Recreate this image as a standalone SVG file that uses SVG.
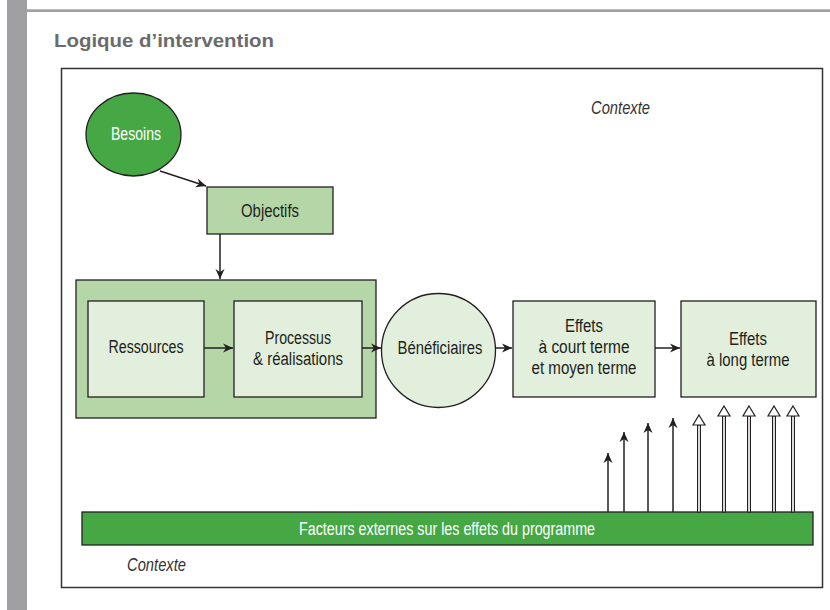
<svg xmlns="http://www.w3.org/2000/svg" width="830" height="610" viewBox="0 0 830 610">
<style>
.t{font-family:'Liberation Sans',Arial,sans-serif;font-size:18px;fill:#231f20;text-anchor:middle}
.w{fill:#ffffff}
.ctx{font-style:italic;text-anchor:start;fill:#333}
.title{font-family:'Liberation Sans',Arial,sans-serif;font-size:19px;font-weight:bold;fill:#6a6b6d}
.dk{fill:#45a845;stroke:#231f20;stroke-width:1.3}
.md{fill:#b5d7a8;stroke:#231f20;stroke-width:1.3}
.lt{fill:#e2efdc;stroke:#231f20;stroke-width:1.3}
.edge{stroke:#231f20;stroke-width:1.5;fill:none;marker-end:url(#ah)}
.hol{fill:#fff;stroke:#231f20;stroke-width:1.2}
.shaft{fill:#d9d9d9;stroke:#231f20;stroke-width:1}
</style>
<defs>
<marker id="ah" markerUnits="userSpaceOnUse" markerWidth="11" markerHeight="10" refX="10" refY="5" orient="auto">
<path d="M0,0.5 L10,5 L0,9.5 L3,5 z" fill="#231f20"/>
</marker>
</defs>
<rect x="7" y="0" width="20" height="610" fill="#a0a0a2"/>
<rect x="27" y="9.3" width="803" height="2.7" fill="#a0a0a2"/>
<text class="title" x="54" y="47" textLength="220" lengthAdjust="spacingAndGlyphs">Logique d’intervention</text>
<rect x="61.5" y="68.5" width="761" height="519" fill="#fff" stroke="#333" stroke-width="1.5"/>
<text class="t ctx" x="591" y="114" textLength="59" lengthAdjust="spacingAndGlyphs">Contexte</text>
<text class="t ctx" x="127" y="571" textLength="59" lengthAdjust="spacingAndGlyphs">Contexte</text>
<g id="besoins"><ellipse class="dk" cx="133.5" cy="134.5" rx="47.5" ry="41.5"/><text class="t w" x="136" y="140" textLength="50" lengthAdjust="spacingAndGlyphs">Besoins</text></g>
<g id="objectifs"><rect class="md" x="207" y="187" width="126" height="47"/><text class="t" x="270" y="217" textLength="58" lengthAdjust="spacingAndGlyphs">Objectifs</text></g>
<g id="groupe"><rect class="md" x="76" y="280" width="300" height="138"/></g>
<g id="ressources"><rect class="lt" x="88" y="301" width="116" height="96"/><text class="t" x="146" y="353" textLength="75" lengthAdjust="spacingAndGlyphs">Ressources</text></g>
<g id="processus"><rect class="lt" x="234" y="301" width="128" height="96"/><text class="t" x="298" y="344" textLength="66" lengthAdjust="spacingAndGlyphs">Processus</text><text class="t" x="298" y="365" textLength="90" lengthAdjust="spacingAndGlyphs">&amp; réalisations</text></g>
<g id="beneficiaires"><circle class="lt" cx="438.5" cy="350.5" r="57"/><text class="t" x="440" y="354" textLength="85" lengthAdjust="spacingAndGlyphs">Bénéficiaires</text></g>
<g id="effets-court"><rect class="lt" x="513" y="301" width="142" height="96"/><text class="t" x="584" y="332" textLength="38" lengthAdjust="spacingAndGlyphs">Effets</text><text class="t" x="584" y="353" textLength="91" lengthAdjust="spacingAndGlyphs">à court terme</text><text class="t" x="584" y="374" textLength="105" lengthAdjust="spacingAndGlyphs">et moyen terme</text></g>
<g id="effets-long"><rect class="lt" x="681" y="301" width="135" height="96"/><text class="t" x="748" y="345" textLength="38" lengthAdjust="spacingAndGlyphs">Effets</text><text class="t" x="748" y="366" textLength="83" lengthAdjust="spacingAndGlyphs">à long terme</text></g>
<g id="facteurs"><rect class="dk" x="82" y="512" width="731" height="33"/><text class="t w" x="447" y="535" textLength="296" lengthAdjust="spacingAndGlyphs">Facteurs externes sur les effets du programme</text></g>
<g id="connectors">
<line class="edge" x1="160" y1="171" x2="206" y2="186"/>
<line class="edge" x1="220" y1="234" x2="220" y2="279"/>
<line class="edge" x1="204" y1="348" x2="233" y2="348"/>
<line class="edge" x1="362" y1="348" x2="381" y2="348"/>
<line class="edge" x1="496" y1="348" x2="512" y2="348"/>
<line class="edge" x1="655" y1="348" x2="680" y2="348"/>
<line class="edge" x1="608" y1="512" x2="608" y2="453"/>
<line class="edge" x1="624" y1="512" x2="624" y2="432"/>
<line class="edge" x1="648" y1="512" x2="648" y2="423"/>
<line class="edge" x1="673" y1="512" x2="673" y2="418"/>
<g id="hollow-arrows">
<rect class="shaft" x="697.5" y="425" width="3" height="87"/><path class="hol" d="M699,415 L705,425 L693,425 z"/>
<rect class="shaft" x="722.5" y="416" width="3" height="96"/><path class="hol" d="M724,406 L730,416 L718,416 z"/>
<rect class="shaft" x="747.5" y="416" width="3" height="96"/><path class="hol" d="M749,406 L755,416 L743,416 z"/>
<rect class="shaft" x="772.5" y="416" width="3" height="96"/><path class="hol" d="M774,406 L780,416 L768,416 z"/>
<rect class="shaft" x="791.5" y="416" width="3" height="96"/><path class="hol" d="M793,406 L799,416 L787,416 z"/>
</g>
</g>
</svg>
